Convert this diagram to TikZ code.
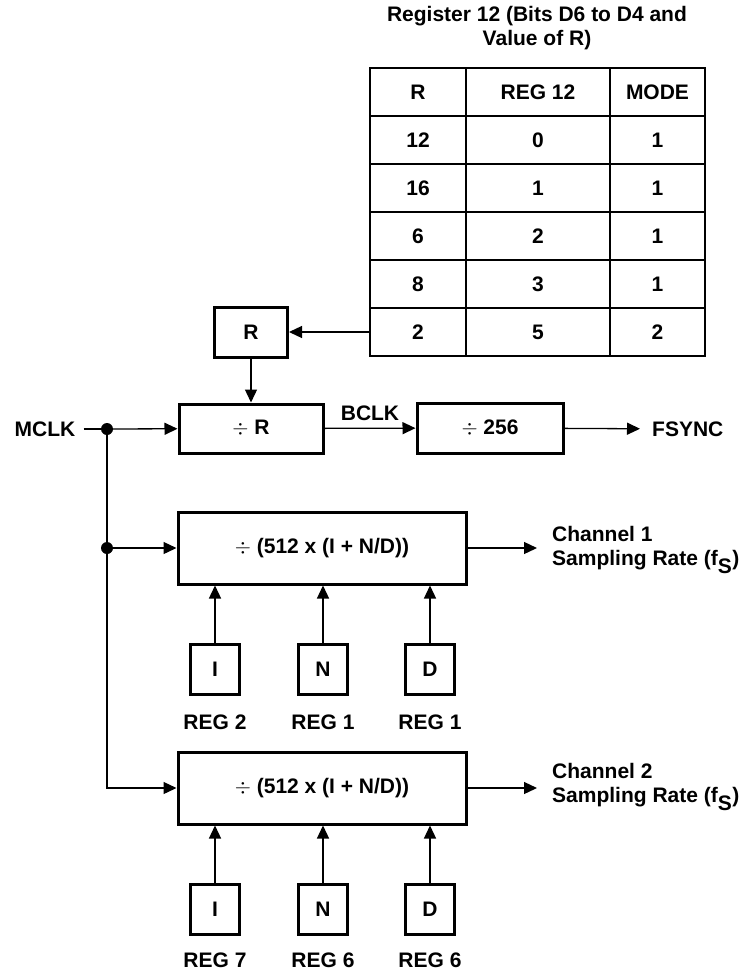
\documentclass[tikz,border=0pt]{standalone}
\usepackage{fontspec}
\setmainfont{Liberation Sans}
\usetikzlibrary{positioning, arrows.meta}

\begin{document}
\begin{tikzpicture}[x=1pt, y=-1pt, font=\fontsize{21}{24}\selectfont\bfseries]
    % Define styles
    \tikzstyle{block} = [rectangle, draw=black, line width=3pt, inner sep=0pt, align=center]
    \tikzstyle{regbox} = [block, minimum width=49pt, minimum height=50pt]
    \tikzstyle{cell} = [rectangle, draw=black, line width=1.5pt, minimum height=48pt, inner sep=0pt]
    \tikzstyle{wire} = [line width=1.3pt]
    \tikzstyle{arrow} = [wire, -{Triangle[length=13pt, width=12pt]}]
    \tikzstyle{dot} = [circle, fill=black, inner sep=0pt, minimum size=12pt]

    \useasboundingbox (0,0) rectangle (741,975);

    % Register 12 table
    \node (title) [align=center] at (537,28) {Register 12 (Bits D6 to D4 and\\Value of R)};
    \foreach \a/\b/\c [count=\i from 0] in {R/REG 12/MODE, 12/0/1, 16/1/1, 6/2/1, 8/3/1, 2/5/2} {
        \node (ca\i) [cell, minimum width=96pt] at (418,92+48*\i) {\a};
        \node (cb\i) [cell, minimum width=144pt] at (538,92+48*\i) {\b};
        \node (cc\i) [cell, minimum width=95pt] at (657.5,92+48*\i) {\c};
    }

    % Nodes
    \node (rsel) [block, minimum width=73pt, minimum height=50pt] at (251,332) {R};
    \node (divr) [block, minimum width=144pt, minimum height=49pt] at (251,428.5) {$\div$ R};
    \node (div256) [block, minimum width=146pt, minimum height=50pt] at (490,428) {$\div$ 256};
    \node (mclk) [inner xsep=8pt] at (45,429) {MCLK};
    \node (fsync) [anchor=west, inner xsep=12pt] at (640,429) {FSYNC};
    \node (j1) [dot] at (107,429) {};
    \node (j2) [dot] at (107,548) {};
    \coordinate (bend) at (107,788);

    \node (ch1) [block, minimum width=288pt, minimum height=72pt] at (322,548) {$\div$ (512 x (I + N/D))};
    \node (ch2) [block, minimum width=288pt, minimum height=72pt] at (322,788) {$\div$ (512 x (I + N/D))};
    \node (out1) [anchor=west, align=left, inner xsep=15pt] at (537,550) {Channel 1\\Sampling Rate (f$_{\textbf{S}}$)};
    \node (out2) [anchor=west, align=left, inner xsep=15pt] at (537,787) {Channel 2\\Sampling Rate (f$_{\textbf{S}}$)};

    % Arrows
    \draw [arrow] (ca5.west) -- (rsel.east);
    \draw [arrow] (rsel) -- (divr);
    \draw [wire] (mclk) -- (j1);
    \draw [arrow] (j1) -- (divr);
    \draw [arrow] (divr) -- node[above=4pt] {BCLK} (div256);
    \draw [arrow] (div256) -- (fsync);
    \draw [wire] (j1) -- (j2);
    \draw [arrow] (j2) -- (ch1);
    \draw [arrow] (j2) -- (bend) -- (ch2);
    \draw [arrow] (ch1.east) -- (ch1.east -| out1.west);
    \draw [arrow] (ch2.east) -- (ch2.east -| out2.west);

    % Register inputs
    \foreach \name/\lbl/\reg/\xx in {i1/I/REG 2/215, n1/N/REG 1/323, d1/D/REG 1/430} {
        \node (\name) [regbox] at (\xx,669) {\lbl};
        \node (\name-reg) at (\xx,722) {\reg};
        \draw [arrow] (\name) -- (\name |- ch1.south);
    }
    \foreach \name/\lbl/\reg/\xx in {i2/I/REG 7/215, n2/N/REG 6/323, d2/D/REG 6/430} {
        \node (\name) [regbox] at (\xx,909.5) {\lbl};
        \node (\name-reg) at (\xx,960) {\reg};
        \draw [arrow] (\name) -- (\name |- ch2.south);
    }
\end{tikzpicture}
\end{document}
